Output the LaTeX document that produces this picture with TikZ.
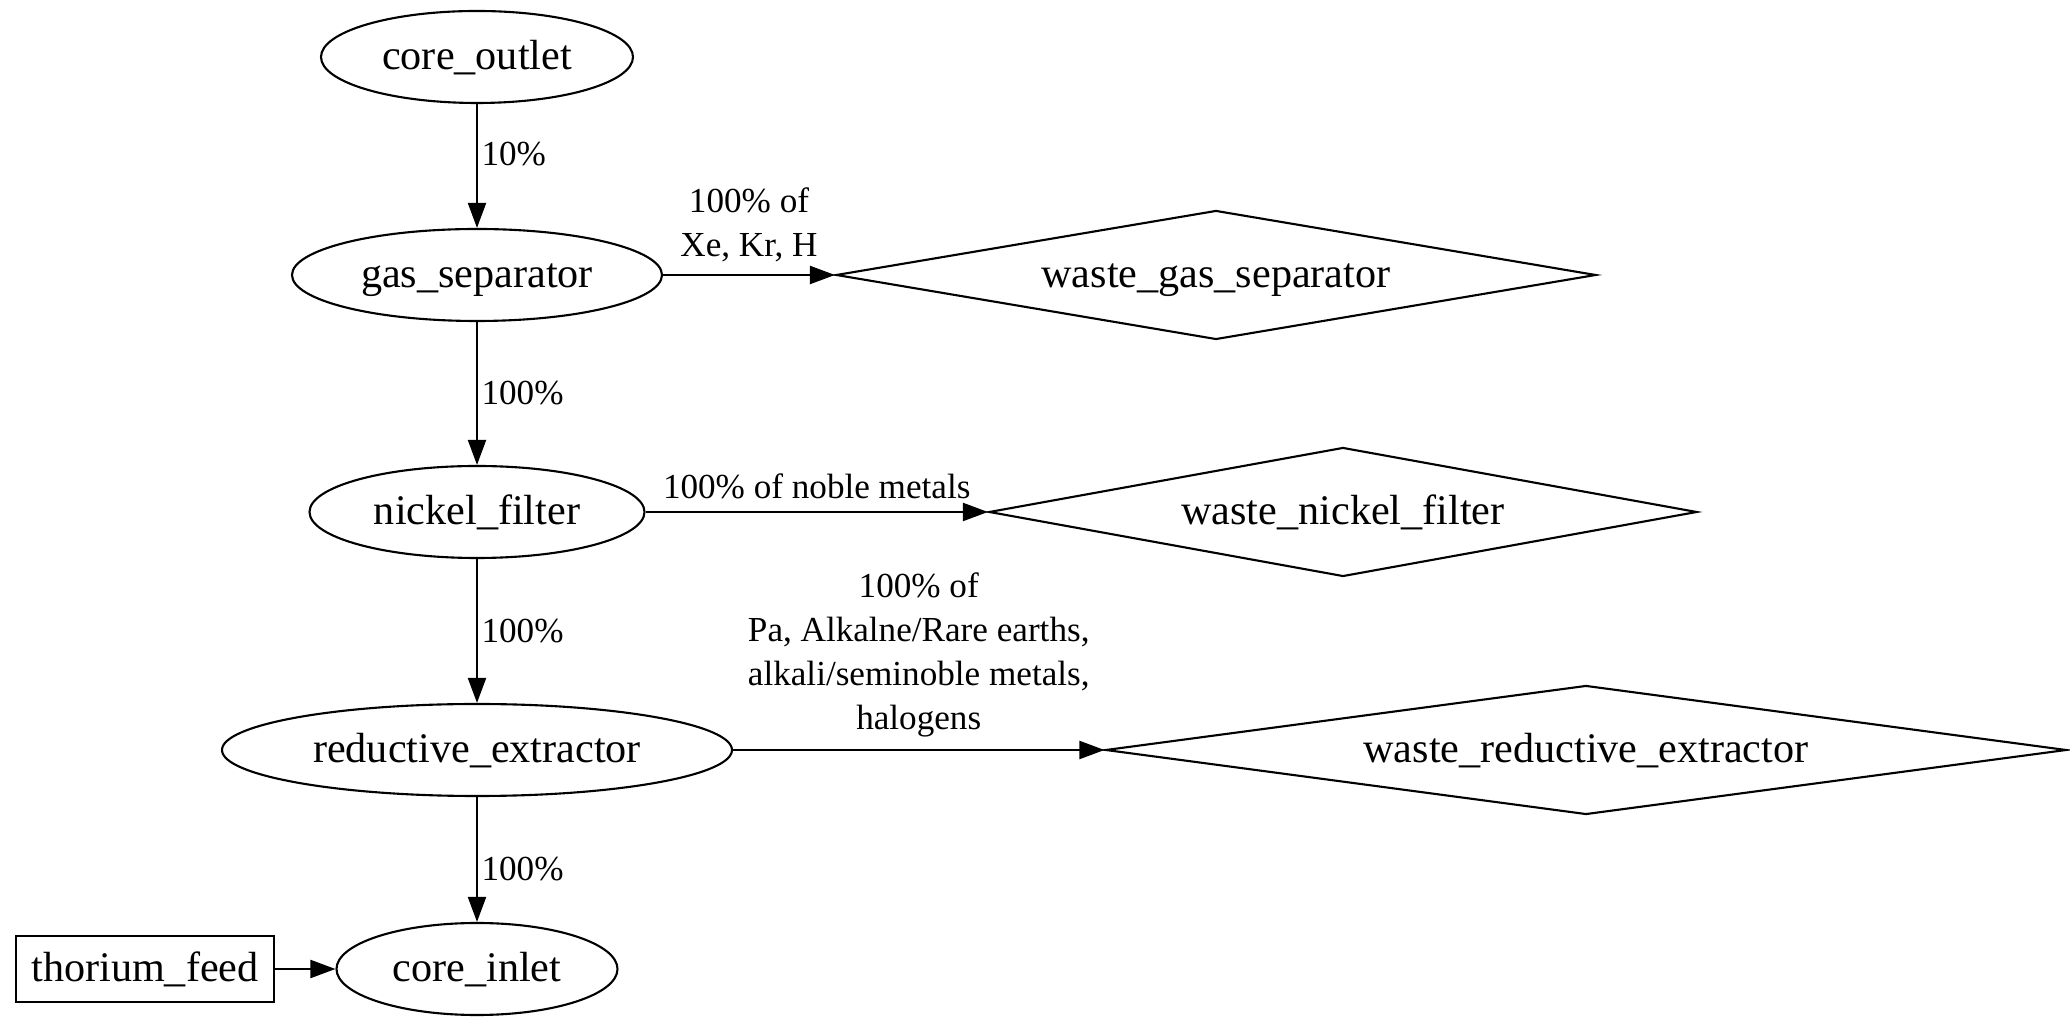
\documentclass[tikz,border=0pt]{standalone}
\usepackage{fontspec}
\setmainfont{Liberation Serif}
\usetikzlibrary{shapes.geometric}
\usetikzlibrary{arrows.meta}

\begin{document}
\begin{tikzpicture}[
    proc/.style={ellipse,draw,line width=.6pt,inner sep=0pt,minimum height=9.2mm,text height=9pt,text depth=2pt,font=\fontsize{12}{14}\selectfont},
    waste/.style={diamond,draw,line width=.6pt,inner sep=0pt,aspect=6,minimum height=12.9mm,text height=9pt,text depth=2pt,font=\fontsize{12}{14}\selectfont},
    feed/.style={rectangle,draw,line width=.6pt,inner sep=0pt,minimum width=25.8mm,minimum height=6.6mm,text height=9pt,text depth=2pt,font=\fontsize{12}{14}\selectfont},
    flow/.style={-{Triangle[length=2.5mm,width=1.8mm]},line width=.6pt},
    lbl/.style={font=\fontsize{10}{12.5}\selectfont,align=center},
    ]
    \useasboundingbox (0,0) rectangle (20.70,-10.26);
    \node[proc,minimum width=31.2mm] (outlet) at (4.77,-0.57) {core\_outlet};
    \node[proc,minimum width=37mm] (gassep) at (4.77,-2.75) {gas\_separator};
    \node[waste,minimum width=76mm] (wastegas) at (12.16,-2.75) {waste\_gas\_separator};
    \node[proc,minimum width=33.5mm] (nickel) at (4.77,-5.12) {nickel\_filter};
    \node[waste,minimum width=70.8mm] (wastenickel) at (13.43,-5.12) {waste\_nickel\_filter};
    \node[proc,minimum width=51mm] (reductive) at (4.77,-7.50) {reductive\_extractor};
    \node[waste,minimum width=96.1mm] (wastered) at (15.86,-7.50) {waste\_reductive\_extractor};
    \node[proc,minimum width=28.1mm] (inlet) at (4.77,-9.69) {core\_inlet};
    \node[feed] (thorium) at (1.45,-9.69) {thorium\_feed};
    \draw[flow] (outlet) -- node[lbl,right,pos=.4,inner sep=1pt] {10\%} (gassep);
    \draw[flow] (gassep) -- node[lbl,above] {100\% of\\Xe, Kr, H} (wastegas);
    \draw[flow] (gassep) -- node[lbl,right,inner sep=1pt] {100\%} (nickel);
    \draw[flow] (nickel) -- node[lbl,above] {100\% of noble metals} (wastenickel);
    \draw[flow] (nickel) -- node[lbl,right,inner sep=1pt] {100\%} (reductive);
    \draw[flow] (reductive) -- node[lbl,above] {100\% of\\Pa, Alkalne/Rare earths,\\alkali/seminoble metals,\\halogens} (wastered);
    \draw[flow] (reductive) -- node[lbl,right,pos=.58,inner sep=1pt] {100\%} (inlet);
    \draw[flow] (thorium) -- (inlet);
\end{tikzpicture}
\end{document}
